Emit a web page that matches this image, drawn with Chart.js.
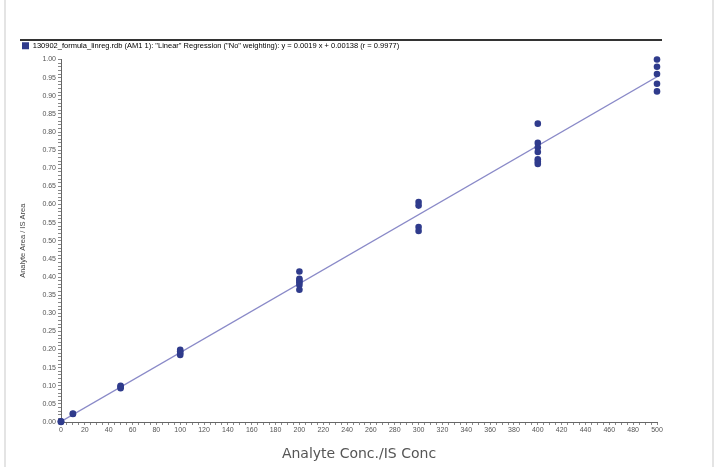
<!DOCTYPE html>
<html>
<head>
<meta charset="utf-8">
<script src="https://cdn.jsdelivr.net/npm/chart.js@4.4.1/dist/chart.umd.min.js"></script>
<style>
  html, body { margin: 0; padding: 0; background: #fff; }
  #wrap { position: relative; width: 720px; height: 467px; }
  #frameL { position: absolute; left: 4px; top: 0; width: 2px; height: 467px; background: #e4e4e4; }
  #frameR { position: absolute; left: 712px; top: 0; width: 2px; height: 467px; background: #e4e4e4; }
  #topLine { position: absolute; left: 20px; top: 39px; width: 642px; height: 2px; background: #333; }
</style>
</head>
<body>
<div id="wrap">
  <canvas id="myChart" width="720" height="467"></canvas>
  <div id="frameL"></div>
  <div id="frameR"></div>
  <div id="topLine"></div>
</div>
<script>
// calibration points (conc ratio vs area ratio)
const concX = [0, 0, 0, 10, 10, 50, 50, 50, 100, 100, 100, 100,
  200, 200, 200, 200, 200, 200, 300, 300, 300, 300,
  400, 400, 400, 400, 400, 400, 400, 500, 500, 500, 500, 500];
const areaY = [0.000, 0.001, 0.002, 0.022, 0.023, 0.093, 0.097, 0.100, 0.185, 0.190, 0.195, 0.199,
  0.415, 0.395, 0.390, 0.385, 0.378, 0.365, 0.607, 0.597, 0.538, 0.527,
  0.823, 0.770, 0.757, 0.745, 0.725, 0.718, 0.712, 1.000, 0.980, 0.960, 0.933, 0.912];

// regression line end points
const fitX = [0, 500];
const fitY = [0.0014, 0.9524];

const legendText = '130902_formula_linreg.rdb (AM1 1): "Linear" Regression ("No" weighting): y = 0.0019 x + 0.00138 (r = 0.9977)';
const xTitle = "Analyte Conc./IS Conc";
const yTitle = "Analyte Area / IS Area";

const chart = document.querySelector("#myChart");

const puntos = concX.map((x, i) => ({ x: x, y: areaY[i] }));
const linea = fitX.map((x, i) => ({ x: x, y: fitY[i] }));

const tickFont = { family: "Liberation Sans", size: 7 };

const config = {
  type: "scatter",
  data: {
    datasets: [
      {
        label: legendText,
        data: puntos,
        backgroundColor: "#2f3b8c",
        borderColor: "#2f3b8c",
        pointRadius: 3.3,
        pointBorderWidth: 0,
        clip: false,
        order: 1,
      },
      {
        type: "line",
        label: "fit",
        data: linea,
        borderColor: "#8a8ac8",
        borderWidth: 1.4,
        pointRadius: 0,
        fill: false,
        order: 2,
      },
    ],
  },
  options: {
    responsive: false,
    animation: false,
    layout: { padding: { left: 18, right: 63, top: 38, bottom: 4 } },
    plugins: {
      tooltip: { enabled: false },
      legend: {
        position: "top",
        align: "start",
        labels: {
          boxWidth: 7,
          boxHeight: 7,
          padding: 4,
          color: "#333",
          font: { family: "Liberation Sans", size: 7.5 },
          generateLabels: (c) => [{
            text: legendText,
            fillStyle: "#2f3b8c",
            strokeStyle: "#2f3b8c",
            lineWidth: 0,
            datasetIndex: 0,
          }],
        },
      },
    },
    scales: {
      x: {
        type: "linear",
        min: 0,
        max: 500,
        afterFit: (s) => { s.height = 41; },
        border: { color: "#666", width: 1 },
        grid: { drawOnChartArea: false, tickLength: 3, color: "#888", tickColor: "#888" },
        ticks: {
          stepSize: 5,
          autoSkip: false,
          maxRotation: 0,
          padding: 1,
          color: "#555",
          font: tickFont,
          callback: (v) => (v % 20 === 0 ? String(v) : ""),
        },
        title: {
          display: true,
          text: xTitle,
          color: "#555",
          font: { family: "DejaVu Sans", size: 14 },
          padding: { top: 4, bottom: 0 },
        },
      },
      y: {
        min: 0,
        max: 1,
        afterFit: (s) => { s.width = 43; },
        border: { color: "#666", width: 1 },
        grid: { drawOnChartArea: false, tickLength: 3, color: "#888", tickColor: "#888" },
        ticks: {
          stepSize: 0.01,
          autoSkip: false,
          padding: 2,
          color: "#555",
          font: tickFont,
          callback: (v) => (Math.round(v * 100) % 5 === 0 ? v.toFixed(2) : ""),
        },
        title: {
          display: true,
          text: yTitle,
          color: "#444",
          font: { family: "Liberation Sans", size: 7.5 },
          padding: { top: 0, bottom: 2 },
        },
      },
    },
  },
};

const myChart = new Chart(chart, config);
</script>
</body>
</html>
